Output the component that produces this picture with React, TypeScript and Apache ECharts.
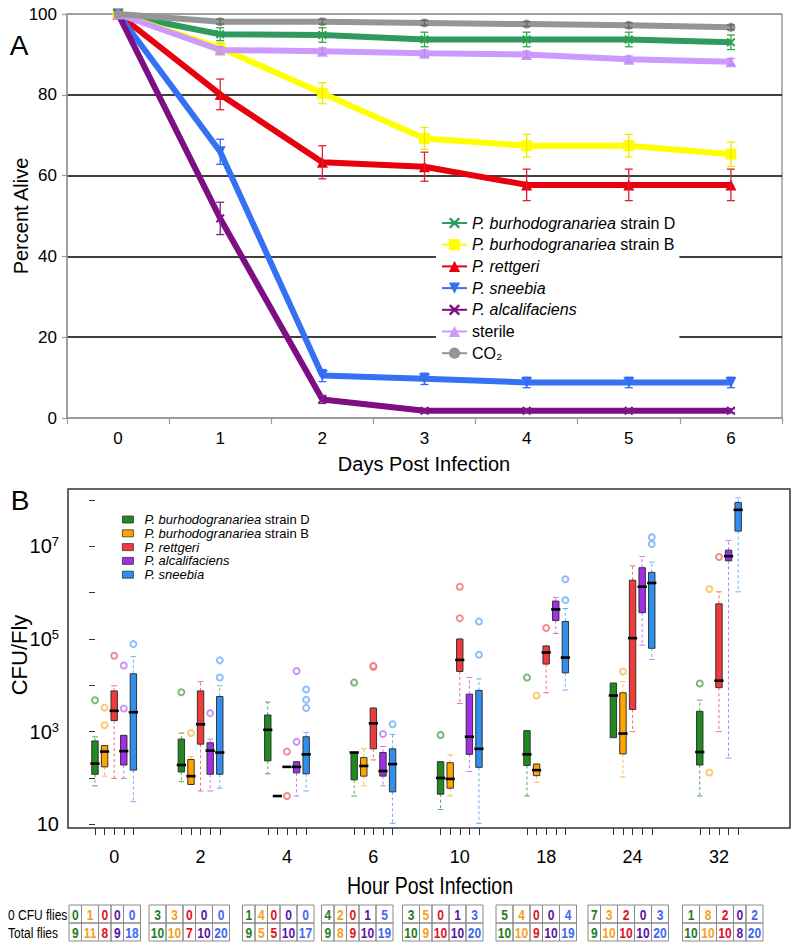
import React, { useEffect, useRef } from "react";
import * as echarts from "echarts";

// ---------- Panel A data (percent alive) ----------
const dayLabels = ["0", "1", "2", "3", "4", "5", "6"];
const strainD = [100, 95.0, 94.8, 93.7, 93.7, 93.7, 93.0];
const strainDErr = [0, 1.6, 1.8, 1.8, 1.8, 1.8, 1.8];
const strainB = [100, 91.6, 80.4, 69.2, 67.4, 67.4, 65.3];
const strainBErr = [0, 1.2, 2.6, 2.7, 2.8, 2.8, 3.0];
const rettgeri = [100, 80.1, 63.3, 62.2, 57.7, 57.7, 57.7];
const rettgeriErr = [0, 3.8, 4.1, 3.6, 3.9, 3.9, 3.9];
const sneebia = [100, 65.9, 10.5, 9.7, 8.8, 8.8, 8.8];
const sneebiaErr = [0, 3.1, 1.5, 1.4, 1.3, 1.3, 1.3];
const alcalifaciens = [100, 49.4, 4.6, 1.8, 1.8, 1.8, 1.8];
const alcalifaciensErr = [0, 4.0, 1.0, 0.5, 0.5, 0.5, 0.5];
const sterile = [100, 91.1, 90.8, 90.3, 90.0, 88.8, 88.2];
const sterileErr = [0, 0.8, 0.8, 0.8, 0.8, 0.8, 0.8];
const co2 = [100, 98.1, 98.1, 97.8, 97.5, 97.2, 96.7];
const co2Err = [0, 0.6, 0.6, 0.6, 0.6, 0.6, 0.6];

// ---------- Panel B data (log10 CFU per fly) ----------
const hourLabels = ["0", "2", "4", "6", "10", "18", "24", "32"];
// [lower whisker, Q1, median, Q3, upper whisker] in log10(CFU/fly)
const strainDBoxes = [
  [1.83, 2.08, 2.31, 2.8, 2.89], [1.92, 2.13, 2.28, 2.84, 2.97], [2.09, 2.37, 3.04, 3.36, 3.64],
  [1.61, 1.96, 2.55, 2.55, 2.55], [1.32, 1.65, 2.0, 2.35, 2.35], [1.61, 2.27, 2.51, 3.02, 3.02],
  [2.87, 2.87, 3.78, 4.05, 4.05], [1.61, 2.28, 2.56, 3.44, 3.68],
];
const strainDOutliers = [[3.68], [3.85], [], [4.06], [2.93], [4.17], [], [4.04]];
const strainBBoxes = [
  [2.04, 2.24, 2.57, 2.7, 2.7], [1.86, 1.86, 2.04, 2.4, 2.46], [1.61, 1.61, 1.61, 1.61, 1.61],
  [1.83, 2.04, 2.26, 2.44, 2.63], [1.61, 1.78, 1.98, 2.33, 2.5], [1.91, 2.05, 2.17, 2.3, 2.3],
  [2.02, 2.52, 2.96, 3.84, 4.08], null,
];
const strainBOutliers = [[3.52, 3.14], [2.97], [], [], [], [3.78], [4.3], [6.08, 2.12]];
const rettgeriBoxes = [
  [1.99, 3.24, 3.45, 3.88, 3.99], [1.72, 2.73, 3.16, 3.88, 4.08], [2.24, 2.24, 2.24, 2.24, 2.24],
  [2.39, 2.63, 3.18, 3.51, 3.51], [3.61, 4.3, 4.55, 5.0, 5.0], [3.84, 4.46, 4.71, 4.85, 4.85],
  [3.0, 3.48, 5.02, 6.27, 6.58], [3.0, 3.95, 4.1, 5.76, 6.02],
];
const rettgeriOutliers = [[4.64], [], [2.57, 1.61], [4.4, 4.42], [5.45, 6.13], [5.24], [], [6.77]];
const alcalifaciensBoxes = [
  [1.99, 2.28, 2.58, 2.92, 2.92], [1.72, 2.08, 2.59, 2.76, 2.84], [1.61, 2.11, 2.24, 2.35, 2.35],
  [1.83, 2.04, 2.15, 2.55, 2.68], [2.14, 2.51, 2.89, 3.81, 4.17], [5.12, 5.4, 5.64, 5.82, 5.9],
  [4.87, 5.57, 6.13, 6.54, 6.78], [2.43, 6.69, 6.79, 6.92, 7.13],
];
const alcalifaciensOutliers = [[3.5, 4.43], [3.4], [2.78, 4.31], [2.95], [], [], [], []];
const sneebiaBoxes = [
  [1.49, 2.17, 3.42, 4.25, 4.62], [1.78, 2.08, 2.55, 3.76, 3.99], [1.72, 2.09, 2.51, 2.89, 2.98],
  [1.02, 1.7, 2.3, 2.63, 2.94], [1.02, 2.23, 2.63, 3.89, 4.14], [3.9, 4.27, 4.6, 5.38, 5.66],
  [4.56, 4.8, 6.21, 6.44, 6.66], [6.02, 7.33, 7.79, 7.95, 8.05],
];
const sneebiaOutliers = [[4.89], [4.17, 4.54], [3.51, 3.69, 3.91], [3.16], [4.66, 5.38], [5.84, 6.29], [7.05, 7.2], []];

// ---------- table under panel B ----------
const zeroCfuD = [0, 3, 1, 4, 3, 5, 7, 1];
const zeroCfuB = [1, 3, 4, 2, 5, 4, 3, 8];
const zeroCfuRett = [0, 0, 0, 0, 0, 0, 2, 2];
const zeroCfuAlc = [0, 0, 0, 1, 1, 0, 0, 0];
const zeroCfuSnee = [0, 0, 0, 5, 3, 4, 3, 2];
const totalD = [9, 10, 9, 9, 10, 10, 9, 10];
const totalB = [11, 10, 5, 8, 9, 10, 10, 10];
const totalRett = [8, 7, 5, 9, 10, 9, 10, 10];
const totalAlc = [9, 10, 10, 10, 10, 10, 10, 8];
const totalSnee = [18, 20, 17, 19, 20, 19, 20, 20];

const FONT = "'Liberation Sans', Arial, sans-serif";
const GROUP_STEP = 9;
const tableX = [69, 149, 242.5, 321.5, 402.5, 496, 588, 682.5];

export default function App() {
  const ref = useRef<HTMLDivElement>(null);
  useEffect(() => {
    document.body.style.margin = "0";
    const chart = echarts.init(ref.current!, null, { renderer: "svg" });

    const cross = "path://M0,1.5 L1.5,0 L5,3.5 L8.5,0 L10,1.5 L6.5,5 L10,8.5 L8.5,10 L5,6.5 L1.5,10 L0,8.5 L3.5,5 Z";
    const topDefs = [
      { name: "P. burhodogranariea strain D", data: strainD, err: strainDErr, color: "#2e9a5e", ecolor: "#22b03a", symbol: cross, size: 9, rot: 0 },
      { name: "P. burhodogranariea strain B", data: strainB, err: strainBErr, color: "#ffff00", ecolor: "#f2e600", symbol: "rect", size: 11, rot: 0 },
      { name: "P. rettgeri", data: rettgeri, err: rettgeriErr, color: "#e8000e", ecolor: "#e02030", symbol: "triangle", size: 11, rot: 0 },
      { name: "P. sneebia", data: sneebia, err: sneebiaErr, color: "#3571f2", ecolor: "#3366ff", symbol: "triangle", size: 11, rot: 180 },
      { name: "P. alcalifaciens", data: alcalifaciens, err: alcalifaciensErr, color: "#7d0e84", ecolor: "#7a2090", symbol: cross, size: 9, rot: 0 },
      { name: "sterile", data: sterile, err: sterileErr, color: "#cc99ff", ecolor: "#bb88ee", symbol: "triangle", size: 11, rot: 0 },
      { name: "CO\u2082", data: co2, err: co2Err, color: "#959595", ecolor: "#666666", symbol: "circle", size: 9, rot: 0 },
    ];

    const series: any[] = [];
    topDefs.forEach((d, k) => {
      series.push({
        type: "line", name: d.name, xAxisIndex: 0, yAxisIndex: 0, data: d.data,
        symbol: d.symbol, symbolSize: d.size, symbolRotate: d.rot, showSymbol: true,
        lineStyle: { color: d.color, width: 6 }, itemStyle: { color: d.color },
        z: 2 + k * 0.01,
      });
    });
    topDefs.forEach((d) => {
      const data = d.data.map((v, i) => [i, v, d.err[i]]).filter((r) => r[2] > 0);
      series.push({
        type: "custom", name: d.name + " err", xAxisIndex: 0, yAxisIndex: 0, data, z: 4,
        renderItem: (_p: any, api: any) => {
          const i = api.value(0), v = api.value(1), e = api.value(2);
          const t = api.coord([i, v + e]);
          const b = api.coord([i, v - e]);
          const cx = t[0], hw = 4;
          const st = { stroke: d.ecolor, lineWidth: 1.3 };
          return {
            type: "group",
            children: [
              { type: "line", shape: { x1: cx, y1: t[1], x2: cx, y2: b[1] }, style: st },
              { type: "line", shape: { x1: cx - hw, y1: t[1], x2: cx + hw, y2: t[1] }, style: st },
              { type: "line", shape: { x1: cx - hw, y1: b[1], x2: cx + hw, y2: b[1] }, style: st },
            ],
          };
        },
      });
    });

    const botDefs = [
      { name: "P. burhodogranariea strain D", boxes: strainDBoxes, out: strainDOutliers, color: "#1f8a1f", light: "#5aa85a", tcolor: "#1e7d1e", zero: zeroCfuD, total: totalD },
      { name: "P. burhodogranariea strain B", boxes: strainBBoxes, out: strainBOutliers, color: "#ffa500", light: "#f7bb55", tcolor: "#f5a020", zero: zeroCfuB, total: totalB },
      { name: "P. rettgeri", boxes: rettgeriBoxes, out: rettgeriOutliers, color: "#f23a3a", light: "#f07070", tcolor: "#e0101e", zero: zeroCfuRett, total: totalRett },
      { name: "P. alcalifaciens", boxes: alcalifaciensBoxes, out: alcalifaciensOutliers, color: "#a22ee8", light: "#c07af0", tcolor: "#5a14a5", zero: zeroCfuAlc, total: totalAlc },
      { name: "P. sneebia", boxes: sneebiaBoxes, out: sneebiaOutliers, color: "#2e8ff0", light: "#70aef5", tcolor: "#4068f5", zero: zeroCfuSnee, total: totalSnee },
    ];

    botDefs.forEach((d, s) => {
      const data: any[] = [];
      d.boxes.forEach((b, g) => { if (b) data.push([g * GROUP_STEP + s, ...b]); });
      series.push({
        type: "custom", name: "b:" + d.name, xAxisIndex: 1, yAxisIndex: 1, data,
        itemStyle: { color: d.color }, z: 3,
        encode: { x: 0, y: [1, 2, 3, 4, 5] },
        renderItem: (_p: any, api: any) => {
          const x = api.value(0);
          const lo = api.coord([x, api.value(1)]);
          const q1 = api.coord([x, api.value(2)]);
          const md = api.coord([x, api.value(3)]);
          const q3 = api.coord([x, api.value(4)]);
          const hi = api.coord([x, api.value(5)]);
          const cx = lo[0];
          const hw = 3.2, cap = 2.8, mw = 4.6;
          const ch: any[] = [];
          const ws = { stroke: d.light, lineWidth: 1, lineDash: [3, 2.5] };
          const cs = { stroke: d.light, lineWidth: 1 };
          if (q3[1] - hi[1] > 0.5) {
            ch.push({ type: "line", shape: { x1: cx, y1: q3[1], x2: cx, y2: hi[1] }, style: ws });
          }
          if (lo[1] - q1[1] > 0.5) {
            ch.push({ type: "line", shape: { x1: cx, y1: q1[1], x2: cx, y2: lo[1] }, style: ws });
          }
          if (q3[1] - hi[1] > 0.5 || lo[1] - q1[1] > 0.5) {
            ch.push({ type: "line", shape: { x1: cx - cap, y1: hi[1], x2: cx + cap, y2: hi[1] }, style: cs });
            ch.push({ type: "line", shape: { x1: cx - cap, y1: lo[1], x2: cx + cap, y2: lo[1] }, style: cs });
          }
          if (q1[1] - q3[1] > 0.5) {
            ch.push({ type: "rect", shape: { x: cx - hw, y: q3[1], width: 2 * hw, height: q1[1] - q3[1] }, style: { fill: d.color, stroke: "#333", lineWidth: 1 } });
          }
          ch.push({ type: "line", shape: { x1: cx - mw, y1: md[1], x2: cx + mw, y2: md[1] }, style: { stroke: "#000", lineWidth: 2.6 } });
          return { type: "group", children: ch };
        },
      });
      const od: number[][] = [];
      d.out.forEach((arr, g) => arr.forEach((v) => od.push([g * GROUP_STEP + s, v])));
      series.push({
        type: "scatter", name: "o:" + d.name, xAxisIndex: 1, yAxisIndex: 1, data: od,
        symbol: "emptyCircle", symbolSize: 6,
        itemStyle: { color: d.light, borderWidth: 1 }, z: 3,
      });
    });

    // table graphics
    const graphics: any[] = [];
    const rowY = [905, 923, 941];
    botDefs[0].zero.forEach((_z, g) => {
      let x = tableX[g];
      botDefs.forEach((d) => {
        const a = String(d.zero[g]), b = String(d.total[g]);
        const w = Math.max(a.length, b.length) > 1 ? 17 : 12.5;
        [a, b].forEach((t, r) => {
          graphics.push({ type: "rect", shape: { x, y: rowY[r], width: w, height: rowY[r + 1] - rowY[r] }, style: { fill: "none", stroke: "#8a8a8a", lineWidth: 1 } });
          graphics.push({ type: "text", x: x + w / 2, y: (rowY[r] + rowY[r + 1]) / 2 + 1, scaleX: 0.8, style: { text: t, fill: d.tcolor, font: `bold 15px ${FONT}`, textAlign: "center", textVerticalAlign: "middle", align: "center", verticalAlign: "middle" } });
        });
        x += w;
      });
    });
    graphics.push({ type: "text", x: 8, y: 915, scaleX: 0.8, style: { text: "0 CFU flies", fill: "#000", font: `15px ${FONT}`, textVerticalAlign: "middle", verticalAlign: "middle" } });
    graphics.push({ type: "text", x: 8, y: 933, scaleX: 0.8, style: { text: "Total flies", fill: "#000", font: `15px ${FONT}`, textVerticalAlign: "middle", verticalAlign: "middle" } });
    const txt = (text: string, x: number, y: number, size: number, rot = 0, sx = 1) => ({
      type: "text", x, y, rotation: rot, scaleX: sx,
      style: { text, fill: "#000", font: `${size}px ${FONT}`, textAlign: "center", textVerticalAlign: "middle", align: "center", verticalAlign: "middle" },
    });
    graphics.push(txt("A", 19, 45, 28));
    graphics.push(txt("B", 20, 500, 28));
    graphics.push(txt("Percent Alive", 21, 216, 20, Math.PI / 2));
    graphics.push(txt("Days Post Infection", 424, 464, 20));
    graphics.push(txt("CFU/Fly", 19, 655, 22, Math.PI / 2));
    graphics.push(txt("Hour Post Infection", 430, 886, 23, 0, 0.85));

    const italicFmt = (raw: string) => {
      const name = raw.replace(/^b:/, "");
      const m = name.match(/^(P\. \S+)(.*)$/);
      if (m) return `{i|${m[1]}}${m[2]}`;
      return name;
    };

    const bottomTicks: number[] = [];
    const bottomLabelPos: number[] = [];
    hourLabels.forEach((_h, g) => {
      for (let s = 0; s < 5; s++) bottomTicks.push(g * GROUP_STEP + s);
      bottomLabelPos.push(g * GROUP_STEP + 2);
    });

    const option: any = {
      animation: false,
      textStyle: { fontFamily: FONT },
      grid: [
        { left: 67, top: 14, width: 715, height: 404, show: true, borderColor: "#9a9a9a", borderWidth: 1.5, backgroundColor: "#fff" },
        { left: 68, top: 489, width: 722, height: 339, show: true, borderColor: "#333", borderWidth: 1.5, backgroundColor: "#fff" },
      ],
      legend: [
        {
          orient: "vertical", left: 436, top: 212, padding: [3, 4, 3, 5], backgroundColor: "#fff",
          itemWidth: 25, itemHeight: 14, itemGap: 5.7,
          data: topDefs.map((d) => d.name),
          formatter: italicFmt,
          textStyle: { fontSize: 16, lineHeight: 16, color: "#000", fontFamily: FONT, rich: { i: { fontSize: 16, fontStyle: "italic", fontFamily: FONT, color: "#000" } } },
        },
        {
          orient: "vertical", left: 122, top: 513, padding: 0,
          itemWidth: 11, itemHeight: 7, itemGap: 0.8,
          data: botDefs.map((d) => ({ name: "b:" + d.name, icon: "rect", itemStyle: { color: d.color, borderColor: "#333", borderWidth: 0.8 } })),
          formatter: italicFmt,
          textStyle: { fontSize: 13, lineHeight: 13, color: "#000", padding: [0, 0, 0, 6], fontFamily: FONT, rich: { i: { fontSize: 13, fontStyle: "italic", fontFamily: FONT, color: "#000", lineHeight: 13 } } },
        },
      ],
      xAxis: [
        {
          type: "category", gridIndex: 0, data: dayLabels, boundaryGap: true,
          axisLine: { lineStyle: { color: "#9a9a9a", width: 1.5 } },
          axisTick: { show: true, length: 6, lineStyle: { color: "#9a9a9a", width: 1.2 } },
          axisLabel: { fontSize: 17, color: "#000", margin: 12, fontFamily: FONT },
          splitLine: { show: false },
        },
        {
          type: "value", gridIndex: 1, min: -2.81, max: 72.4,
          axisLine: { show: false },
          axisTick: { show: true, length: 7, customValues: bottomTicks, lineStyle: { color: "#333", width: 1 } },
          axisLabel: {
            customValues: bottomLabelPos, fontSize: 18, color: "#000", margin: 20, fontFamily: FONT,
            formatter: (v: number) => hourLabels[Math.round((v - 2) / GROUP_STEP)] ?? "",
          },
          splitLine: { show: false },
        },
      ],
      yAxis: [
        {
          type: "value", gridIndex: 0, min: 0, max: 100, interval: 20,
          axisLine: { show: true, lineStyle: { color: "#9a9a9a", width: 1.5 } },
          axisTick: { show: true, length: 5, lineStyle: { color: "#9a9a9a", width: 1.2 } },
          axisLabel: { fontSize: 17, color: "#000", margin: 10, fontFamily: FONT },
          splitLine: { show: true, lineStyle: { color: ["#9a9a9a", "#000", "#000", "#000", "#000", "#9a9a9a"], width: 1.5 } },
        },
        {
          type: "value", gridIndex: 1, min: 0.92, max: 8.24,
          axisLine: { show: false },
          axisTick: { show: true, length: 6, customValues: [1, 2, 3, 4, 5, 6, 7, 8], lineStyle: { color: "#333", width: 1 } },
          axisLabel: {
            customValues: [1, 3, 5, 7], color: "#000", margin: 9, fontSize: 20, fontFamily: FONT,
            formatter: (v: number) => (Math.round(v) === 1 ? "{b|10}" : `{b|10}{s|${Math.round(v)}}`),
            rich: { b: { fontSize: 20, fontFamily: FONT, color: "#000" }, s: { fontSize: 13, fontFamily: FONT, color: "#000", padding: [0, 0, 9, 0] } },
          },
          splitLine: { show: false },
        },
      ],
      graphic: graphics,
      series,
    };
    chart.setOption(option);
    return () => chart.dispose();
  }, []);
  return <div ref={ref} style={{ width: 800, height: 949 }} />;
}
